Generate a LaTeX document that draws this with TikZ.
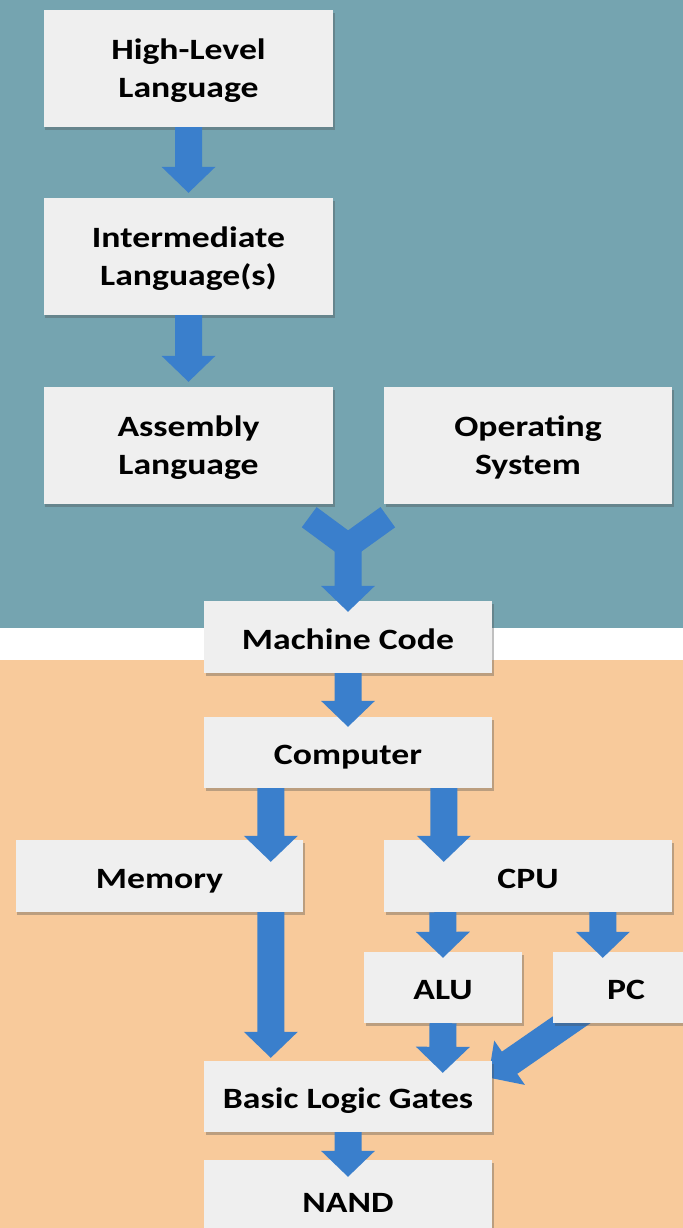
\documentclass[tikz,border=0pt]{standalone}
\usepackage{fontspec}
\usetikzlibrary{calc,shadows}
\newfontfamily\labelfont[FakeStretch=1.21]{Carlito}
\definecolor{topbg}{RGB}{117,164,176}
\definecolor{botbg}{RGB}{248,202,155}
\definecolor{boxgray}{RGB}{239,239,239}
\definecolor{flowblue}{RGB}{58,127,204}
\pgfdeclarelayer{background}
\pgfdeclarelayer{behind}
\pgfsetlayers{background,behind,main}
\tikzset{
  box/.style={fill=boxgray, inner sep=0pt, align=center, text=black,
    font=\labelfont\bfseries\fontsize{29.5bp}{38bp}\selectfont,
    drop shadow={shadow xshift=1.5bp, shadow yshift=-2.5bp, opacity=0.35, fill=black!70}},
  tall/.style={minimum width=289bp, minimum height=117bp, text depth=0pt},
  flat/.style={minimum width=288bp, minimum height=72bp, text height=24bp, text depth=0pt},
}
% block arrow: stem 27bp wide, head 54bp wide and 26bp long, tip at #2
\newcommand\flowarrow[2]{%
  \fill[flowblue]
    ($(#1)!13.5bp!90:(#2)$) --
    ($($(#2)!26bp!(#1)$)!13.5bp!90:(#2)$) --
    ($($(#2)!26bp!(#1)$)!27bp!90:(#2)$) --
    (#2) --
    ($($(#2)!26bp!(#1)$)!27bp!-90:(#2)$) --
    ($($(#2)!26bp!(#1)$)!13.5bp!-90:(#2)$) --
    ($(#1)!13.5bp!-90:(#2)$) -- cycle;}
\begin{document}
\begin{tikzpicture}[x=1bp,y=-1bp]
\useasboundingbox (0,0) rectangle (683,1228);
\clip (0,0) rectangle (683,1228);

\begin{pgfonlayer}{background}
  \fill[topbg] (0,0) rectangle (683,628);
  \fill[white] (0,628) rectangle (683,660);
  \fill[botbg] (0,660) rectangle (683,1228);
\end{pgfonlayer}

% language levels
\node[box,tall] (hl)  at (188.5,68.5)  {High-Level\\Language};
\node[box,tall] (il)  at (188.5,256.5) {Intermediate\\Language(s)};
\node[box,tall] (asm) at (188.5,445.5) {Assembly\\Language};
\node[box,tall,minimum width=288bp] (os) at (528,445.5) {Operating\\System};

% hardware levels
\node[box,flat] (mc)   at (348,637)    {Machine Code};
\node[box,flat,minimum height=71bp] (cmp) at (348,752.5) {Computer};
\node[box,flat,minimum width=287bp] (mem) at (159.5,876) {Memory};
\node[box,flat] (cpu)  at (528,876)    {CPU};
\node[box,flat,minimum width=158bp,minimum height=71bp] (alu) at (443,987.5) {ALU};
\node[box,flat,minimum width=146bp,minimum height=71bp] (pc)  at (626,987.5) {PC};
\node[box,flat,minimum height=71bp] (blg)  at (348,1096.5) {Basic Logic Gates};
\node[box,flat,minimum height=80bp] (nand) at (348,1200)   {NAND};

% arrow end points
\coordinate (t-il)   at ($(il.north)+(0,-5)$);
\coordinate (t-asm)  at ($(asm.north)+(0,-5)$);
\coordinate (y-left) at ($(asm.south east)+(-24,13)$);
\coordinate (y-right) at ($(os.south west)+(4,13)$);
\coordinate (y-join) at ($(mc.north)+(0,-55)$);
\coordinate (t-mc)   at ($(mc.north)+(0,11)$);
\coordinate (t-cmp)  at ($(cmp.north)+(0,10)$);
\coordinate (s-mem)  at ($(cmp.south west)+(67,0)$);
\coordinate (t-mem)  at ($(mem.north west)+(255,22)$);
\coordinate (s-cpu)  at ($(cmp.south west)+(240,0)$);
\coordinate (t-cpu)  at ($(cpu.north west)+(60,22)$);
\coordinate (s-alu)  at ($(cpu.south west)+(59,0)$);
\coordinate (t-alu)  at ($(alu.north)+(0,6)$);
\coordinate (s-pc)   at ($(cpu.south west)+(219,0)$);
\coordinate (t-pc)   at ($(pc.north west)+(50,6)$);
\coordinate (t-blga) at ($(blg.north west)+(239,12)$);
\coordinate (s-memb) at ($(mem.south west)+(255,0)$);
\coordinate (t-blgm) at ($(blg.north west)+(67,-3)$);
\coordinate (s-pcb)  at ($(pc.south west)+(37,-16)$);
\coordinate (t-blgp) at ($(blg.east)+(-4,-19)$);
\coordinate (t-nand) at ($(nand.north)+(0,17)$);

% software chain
\flowarrow{hl.south}{t-il}
\flowarrow{il.south}{t-asm}
\draw[flowblue, line width=25bp, line join=miter] (y-left) -- (y-join) -- (y-right);
\flowarrow{y-join}{t-mc}

% hardware chain
\flowarrow{mc.south}{t-cmp}
\flowarrow{s-mem}{t-mem}
\flowarrow{s-cpu}{t-cpu}
\flowarrow{s-alu}{t-alu}
\flowarrow{s-pc}{t-pc}
\flowarrow{alu.south}{t-blga}
\flowarrow{s-memb}{t-blgm}
\begin{pgfonlayer}{behind}
  \flowarrow{s-pcb}{t-blgp}
\end{pgfonlayer}
\flowarrow{blg.south}{t-nand}
\end{tikzpicture}
\end{document}
